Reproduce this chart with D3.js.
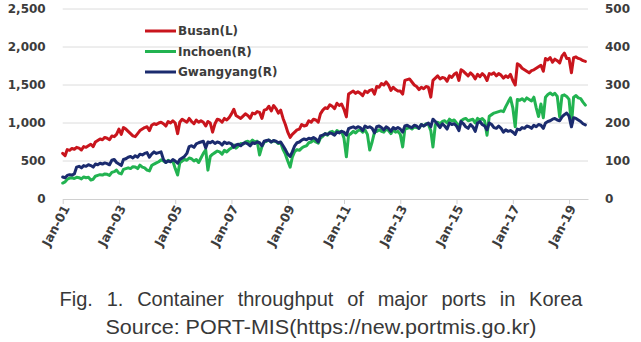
<!DOCTYPE html>
<html>
<head>
<meta charset="utf-8">
<script src="https://cdn.jsdelivr.net/npm/d3@7"></script>
<style>
  body { margin: 0; background: #fff; }
  svg { display: block; }
</style>
</head>
<body>
<div class="canvas"></div>
<script>
const canvasWidth = 641;
const canvasHeight = 342;

// monthly throughput, thousand TEU, Jan 2001 .. Aug 2019
const busan = [
  600, 570, 650, 640, 665, 655, 680, 670, 645, 690, 680, 700,
  720, 690, 750, 770, 790, 780, 810, 800, 780, 830, 820, 850,
  920, 850, 940, 920, 890, 860, 830, 820, 860, 900, 920, 940,
  950, 900, 970, 990, 980, 1000, 1010, 990, 960, 1020, 1000, 1030,
  1000, 860, 1010, 1050, 1030, 1010, 1060, 1020, 990, 1040, 1010, 1030,
  1010, 960, 1020, 1000, 880, 990, 1050, 1040, 1010, 1060, 1040, 1070,
  1120, 1180, 1100, 1080, 1060, 1090, 1120, 1100, 1060, 1130, 1120, 1150,
  1140, 1060, 1170, 1180, 1220, 1160, 1230, 1190, 1130, 1170, 1060, 980,
  880, 810, 850, 880, 910, 920, 980, 960, 970, 1030, 1010, 1050,
  1040, 1010, 1120, 1170, 1200, 1190, 1240, 1220, 1190, 1260, 1230, 1250,
  1180, 1080, 1380, 1400, 1420, 1390, 1410, 1390, 1360, 1420, 1400, 1430,
  1440, 1380, 1480, 1470, 1520, 1500, 1540, 1500, 1430, 1470, 1440, 1420,
  1420, 1380, 1560, 1570, 1580, 1540, 1500, 1480, 1440, 1470, 1450, 1480,
  1470, 1340, 1560, 1590, 1620, 1580, 1600, 1590, 1550, 1620, 1600, 1640,
  1660, 1560, 1700, 1680, 1650, 1620, 1660, 1630, 1580, 1640, 1610, 1650,
  1620, 1560, 1650, 1640, 1660, 1620, 1650, 1630, 1590, 1620, 1600, 1640,
  1560, 1500, 1780, 1760, 1720, 1700, 1680, 1660, 1690, 1700, 1720, 1740,
  1760, 1680, 1850, 1830, 1860, 1800, 1840, 1820, 1790, 1880, 1920, 1850,
  1850, 1660, 1860, 1870, 1850, 1840, 1820, 1810
];

const inchoen = [
  42, 45, 52, 55, 56, 54, 57, 56, 53, 58, 56, 57,
  50, 52, 60, 62, 64, 63, 66, 65, 62, 70, 72, 76,
  68, 66, 78, 80, 82, 80, 85, 84, 80, 89, 84, 82,
  76, 74, 88, 92, 95, 98, 103, 100, 96, 102, 98, 100,
  80, 63, 95, 100, 104, 102, 108, 106, 100, 104, 96, 108,
  120, 129, 76, 112, 118, 122, 126, 124, 118, 128, 124, 130,
  134, 142, 134, 140, 146, 144, 150, 152, 148, 155, 150, 152,
  116, 138, 150, 152, 155, 150, 153, 151, 146, 148, 130, 118,
  100, 84, 110, 125, 130, 128, 134, 138, 140, 148, 150, 155,
  150, 147, 160, 165, 172, 168, 176, 178, 172, 180, 176, 178,
  160, 111, 168, 172, 178, 174, 180, 182, 176, 182, 170, 129,
  150, 176, 178, 182, 178, 176, 184, 180, 172, 182, 176, 178,
  170, 137, 184, 186, 188, 184, 190, 188, 186, 196, 192, 198,
  196, 180, 137, 196, 202, 198, 204, 206, 200, 210, 205, 208,
  200, 190, 206, 210, 212, 206, 208, 210, 200, 212, 208, 212,
  205, 168, 218, 222, 226, 228, 230, 232, 230, 243, 255, 266,
  240, 190, 262, 260, 264, 258, 266, 262, 258, 268, 240, 217,
  250, 214, 268, 275, 279, 274, 278, 270, 216, 272, 274, 270,
  262, 195, 268, 272, 266, 264, 255, 247
];

const gwangyang = [
  58, 56, 62, 64, 63, 66, 84, 86, 82, 88, 86, 90,
  88, 84, 92, 90, 94, 92, 95, 93, 90, 102, 104, 96,
  92, 88, 104, 106, 110, 112, 108, 114, 110, 118, 116, 120,
  122, 110, 118, 124, 120, 122, 124, 104, 96, 100, 98, 104,
  100, 94, 104, 108, 112, 120, 138, 140, 136, 145, 148, 150,
  152, 134, 150, 148, 152, 146, 150, 148, 142, 150, 146, 148,
  145, 136, 142, 144, 140, 146, 148, 145, 140, 148, 146, 150,
  148, 140, 152, 154, 155, 150, 154, 152, 148, 150, 140, 130,
  118, 112, 124, 140, 148, 150, 155, 158, 156, 160, 158, 162,
  158, 150, 166, 168, 172, 170, 174, 172, 168, 176, 174, 178,
  176, 168, 185, 188, 190, 186, 190, 188, 180, 192, 188, 190,
  186, 174, 190, 192, 188, 182, 190, 186, 178, 188, 184, 188,
  184, 176, 192, 194, 190, 188, 194, 192, 186, 196, 192, 196,
  200, 190, 210, 204, 196, 188, 198, 192, 184, 200, 196, 198,
  192, 180, 204, 198, 190, 186, 196, 190, 178, 200, 204, 196,
  192, 182, 200, 196, 188, 186, 192, 186, 176, 182, 178, 180,
  176, 170, 184, 182, 188, 186, 192, 190, 186, 194, 190, 196,
  194, 186, 200, 204, 206, 210, 212, 208, 206, 216, 222, 226,
  218, 190, 214, 212, 208, 204, 198, 195
];

const leftTicks = [0, 500, 1000, 1500, 2000, 2500];
const rightTicks = [0, 100, 200, 300, 400, 500];
const tickYears = [2001, 2003, 2005, 2007, 2009, 2011, 2013, 2015, 2017, 2019];
const seriesNames = ['Busan(L)', 'Inchoen(R)', 'Gwangyang(R)'];
const seriesColors = ['#c9151d', '#22b351', '#1b2b6e'];
const captionLines = [
  'Fig. 1. Container throughput of major ports in Korea',
  'Source:  PORT-MIS(https://new.portmis.go.kr)'
];

const startMonth = new Date(2001, 0, 1);
const months = busan.map((d, i) => d3.timeMonth.offset(startMonth, i));

const plot = { left: 62.7, right: 588, top: 9, bottom: 199 };

const svg = d3.select('.canvas')
  .append('svg')
  .attr('width', canvasWidth)
  .attr('height', canvasHeight);

const x = d3.scaleTime()
  .domain([startMonth, new Date(2019, 8, 4)])
  .range([plot.left, plot.right]);

const yL = d3.scaleLinear()
  .domain([0, 2500])
  .range([plot.bottom, plot.top]);

const yR = d3.scaleLinear()
  .domain([0, 500])
  .range([plot.bottom, plot.top]);

// gridlines
svg.append('g')
  .selectAll('line')
  .data(leftTicks.slice(1))
  .enter()
  .append('line')
  .attr('x1', plot.left)
  .attr('x2', plot.right)
  .attr('y1', d => yL(d))
  .attr('y2', d => yL(d))
  .attr('stroke', '#dcdcdc')
  .attr('stroke-width', 1);

const labelFont = 'DejaVu Sans, Verdana, sans-serif';

const yAxisLeft = svg.append('g')
  .attr('transform', `translate(${plot.left},0)`)
  .call(d3.axisLeft(yL).tickValues(leftTicks).tickFormat(d3.format(',')).tickSize(0).tickPadding(17));

const yAxisRight = svg.append('g')
  .attr('transform', `translate(${plot.right},0)`)
  .call(d3.axisRight(yR).tickValues(rightTicks).tickSize(0).tickPadding(17));

[yAxisLeft, yAxisRight].forEach(g => {
  g.select('.domain').remove();
  g.selectAll('text')
    .attr('font-family', labelFont)
    .attr('font-weight', 'bold')
    .attr('font-size', '12px')
    .attr('fill', '#3c3c3c');
});

const xAxisGroup = svg.append('g')
  .attr('transform', `translate(0,${plot.bottom})`)
  .call(d3.axisBottom(x)
    .tickValues(tickYears.map(y => new Date(y, 0, 1)))
    .tickFormat(d3.timeFormat('Jan-%y'))
    .tickSizeInner(5)
    .tickSizeOuter(0));

xAxisGroup.select('.domain').attr('stroke', '#d0d0d0');
xAxisGroup.selectAll('.tick line').attr('stroke', '#d0d0d0');
xAxisGroup.selectAll('text')
  .attr('font-family', labelFont)
  .attr('font-weight', 'bold')
  .attr('font-size', '12.5px')
  .attr('fill', '#3c3c3c')
  .attr('text-anchor', 'end')
  .attr('transform', 'translate(3,7) rotate(-62)')
  .attr('dy', '0.35em')
  .attr('y', 0)
  .attr('x', 0);

// lines
const lineL = d3.line()
  .x((d, i) => x(months[i]))
  .y(d => yL(d));

const lineR = d3.line()
  .x((d, i) => x(months[i]))
  .y(d => yR(d));

const series = [
  { values: inchoen, line: lineR, color: seriesColors[1] },
  { values: gwangyang, line: lineR, color: seriesColors[2] },
  { values: busan, line: lineL, color: seriesColors[0] }
];

svg.append('g')
  .selectAll('path')
  .data(series)
  .enter()
  .append('path')
  .attr('d', d => d.line(d.values))
  .attr('fill', 'none')
  .attr('stroke', d => d.color)
  .attr('stroke-width', 3)
  .attr('stroke-linejoin', 'round')
  .attr('stroke-linecap', 'round');

// legend
const legend = svg.append('g')
  .selectAll('g')
  .data(seriesNames)
  .enter()
  .append('g')
  .attr('transform', (d, i) => `translate(145,${31 + i * 20.5})`);

legend.append('line')
  .attr('x1', 0)
  .attr('x2', 31)
  .attr('stroke', (d, i) => seriesColors[i])
  .attr('stroke-width', 3);

legend.append('text')
  .attr('x', 33)
  .attr('dy', '0.35em')
  .attr('font-family', labelFont)
  .attr('font-weight', 'bold')
  .attr('font-size', '12px')
  .attr('fill', '#3c3c3c')
  .text(d => d);

// caption
const caption = svg.append('g')
  .selectAll('text')
  .data(captionLines)
  .enter()
  .append('text')
  .attr('x', 321)
  .attr('y', (d, i) => 306 + i * 28)
  .attr('text-anchor', 'middle')
  .attr('font-family', 'Liberation Sans, Arial, sans-serif')
  .attr('font-size', '20px')
  .attr('fill', '#383838')
  .text(d => d);

// stretch the first line by word spacing, fit the second one
const capTargets = [523, 431];
caption.each(function(d, i) {
  const t = d3.select(this);
  const len = this.getComputedTextLength();
  if (i === 0) {
    const gaps = d.split(' ').length - 1;
    t.attr('word-spacing', ((capTargets[0] - len) / gaps) + 'px');
  } else {
    t.attr('textLength', capTargets[1]).attr('lengthAdjust', 'spacingAndGlyphs');
  }
});
</script>
</body>
</html>
